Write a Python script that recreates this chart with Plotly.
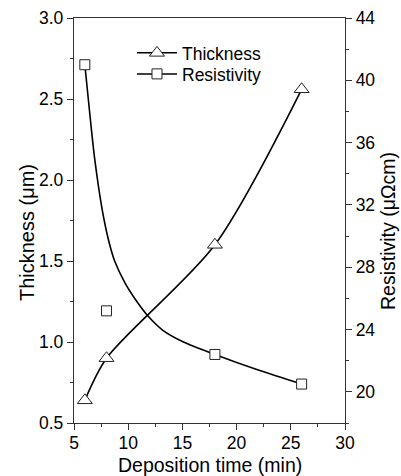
import plotly.graph_objects as go

# Data
time_min = [6, 8, 18, 26]
thickness_um = [0.64, 0.90, 1.60, 2.56]
resistivity = [41.0, 25.2, 22.4, 20.5]

# fitted resistivity curve
fit_time = [6.0, 6.45, 6.9, 7.6, 8.2, 8.75, 9.7, 10.7, 11.85, 13.2, 15.1, 18.0, 22.0, 26.0]
fit_resistivity = [41.0, 37.9, 35.0, 31.7, 29.7, 28.4, 27.0, 25.9, 24.85, 23.95, 23.2, 22.4, 21.4, 20.5]

x_ticks = [5, 10, 15, 20, 25, 30]
left_ticks = [0.5, 1.0, 1.5, 2.0, 2.5, 3.0]
right_ticks = [20, 24, 28, 32, 36, 40, 44]

FONT = "Liberation Sans, Arial, sans-serif"
LINE = "black"
EDGE = "#222"

fig = go.Figure()

# Thickness curve
fig.add_trace(go.Scatter(
    x=time_min, y=thickness_um, mode="lines",
    line=dict(color=LINE, width=1.6, shape="spline", smoothing=0.8),
    showlegend=False, hoverinfo="skip"))

# Resistivity fitted curve
fig.add_trace(go.Scatter(
    x=fit_time, y=fit_resistivity, mode="lines", yaxis="y2",
    line=dict(color=LINE, width=1.6, shape="spline", smoothing=0.8),
    showlegend=False, hoverinfo="skip"))

fig.add_trace(go.Scatter(
    x=time_min, y=thickness_um, mode="markers", name="Thickness",
    marker=dict(symbol="triangle-up", size=13, color="white",
                line=dict(color=EDGE, width=1)),
    showlegend=False))

fig.add_trace(go.Scatter(
    x=time_min, y=resistivity, mode="markers", yaxis="y2", name="Resistivity",
    marker=dict(symbol="square", size=10, color="white",
                line=dict(color=EDGE, width=1)),
    showlegend=False))

# legend entries (one legend box each, to match the tight row spacing)
fig.add_trace(go.Scatter(
    x=[None], y=[None], mode="lines+markers", name="Thickness", legend="legend",
    line=dict(color=LINE, width=1.5),
    marker=dict(symbol="triangle-up", size=13, color="white",
                line=dict(color=EDGE, width=1))))
fig.add_trace(go.Scatter(
    x=[None], y=[None], mode="lines+markers", name="Resistivity", legend="legend2",
    line=dict(color=LINE, width=1.5),
    marker=dict(symbol="square", size=10, color="white",
                line=dict(color=EDGE, width=1))))

axis_common = dict(
    showgrid=False, zeroline=False, showline=True, linecolor="#333", linewidth=1.3,
    ticks="outside", ticklen=6, tickwidth=1.2, tickcolor="#333",
    tickfont=dict(family=FONT, size=17.5, color="black"),
)

legend_common = dict(
    x=0.214, xanchor="left", yanchor="middle",
    bgcolor="rgba(0,0,0,0)", borderwidth=0,
    font=dict(family=FONT, size=17.5, color="black"),
    itemwidth=40,
)

fig.update_layout(
    width=401, height=476,
    margin=dict(l=74, r=56, t=18, b=53, autoexpand=False),
    paper_bgcolor="white", plot_bgcolor="white",
    font=dict(family=FONT, color="black"),
    xaxis=dict(
        range=[5, 30], tickvals=x_ticks, ticktext=[str(v) for v in x_ticks],
        mirror=True, ticklabelstandoff=-2,
        minor=dict(dtick=2.5, tick0=5, ticks="outside", ticklen=3, tickcolor="#333"),
        **axis_common),
    yaxis=dict(
        range=[0.5, 3.0], tickvals=left_ticks, ticktext=[f"{v:.1f}" for v in left_ticks],
        minor=dict(dtick=0.25, tick0=0.5, ticks="outside", ticklen=3, tickcolor="#333"),
        **axis_common),
    yaxis2=dict(
        range=[18, 44], overlaying="y", side="right",
        tickvals=right_ticks, ticktext=[str(v) for v in right_ticks],
        minor=dict(dtick=2, tick0=18, ticks="outside", ticklen=3, tickcolor="#333"),
        **axis_common),
    legend=dict(y=0.9136, **legend_common),
    legend2=dict(y=0.8617, **legend_common),
    annotations=[
        dict(text="Deposition time (min)", xref="paper", yref="paper",
             x=0.5, y=0, yshift=-42, xanchor="center", yanchor="middle",
             showarrow=False, font=dict(family=FONT, size=19.5, color="black")),
        dict(text="Thickness (μm)", xref="paper", yref="paper",
             x=0, y=0.469, xshift=-47, xanchor="center", yanchor="middle",
             textangle=-90, showarrow=False,
             font=dict(family=FONT, size=20, color="black")),
        dict(text="Resistivity (μΩcm)", xref="paper", yref="paper",
             x=1, y=0.474, xshift=43, xanchor="center", yanchor="middle",
             textangle=-90, showarrow=False,
             font=dict(family=FONT, size=19.5, color="black")),
    ],
)

fig.write_html("out.html")
